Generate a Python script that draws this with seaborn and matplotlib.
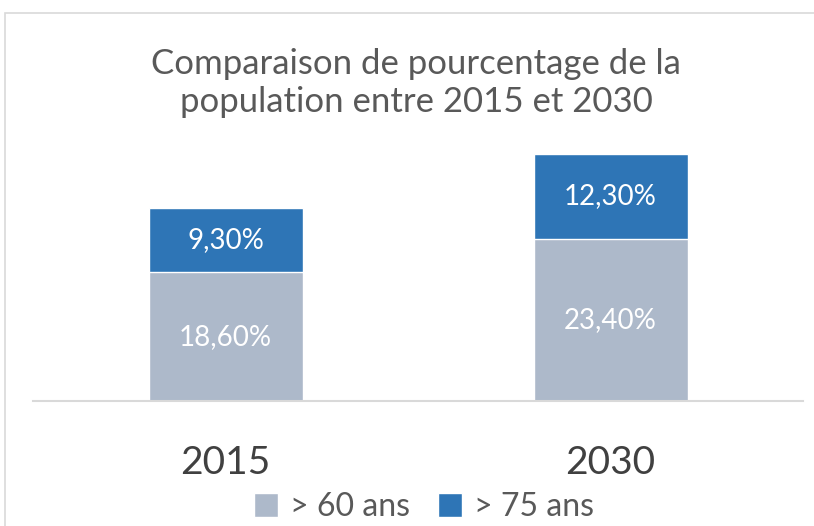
import pandas as pd
import matplotlib.pyplot as plt
import seaborn as sns
from matplotlib.patches import Rectangle, Patch

# Data
years = ["2015", "2030"]
over_60 = [18.6, 23.4]
over_75 = [9.3, 12.3]
series_names = ["> 60 ans", "> 75 ans"]

df = pd.DataFrame({"annee": years, "plus60": over_60, "plus75": over_75})
df["total"] = df["plus60"] + df["plus75"]

light = "#ADB9CA"
blue = "#2E75B6"
grey_txt = "#595959"

sns.set_style("white")
plt.rcParams["font.family"] = ["Lato", "DejaVu Sans"]

fig = plt.figure(figsize=(8.14, 5.26), dpi=100)
ax = fig.add_axes([33 / 814, 1 - 401 / 526, 770 / 814, 277 / 526])

# stacked bars: total in blue, then lower part on top
sns.barplot(data=df, x="annee", y="total", color=blue, width=0.4,
            saturation=1, ax=ax)
sns.barplot(data=df, x="annee", y="plus60", color=light, width=0.4,
            saturation=1, ax=ax)

def fmt(v):
    return f"{v:.2f}%".replace(".", ",")

for i, row in df.iterrows():
    ax.text(i, row["plus60"] / 2, fmt(row["plus60"]), ha="center", va="center",
            color="white", fontsize=20)
    ax.text(i, row["plus60"] + row["plus75"] / 2, fmt(row["plus75"]),
            ha="center", va="center", color="white", fontsize=20)

ax.set_xlim(-0.5, 1.5)
ax.set_ylim(0, 40)
ax.set_xlabel("")
ax.set_ylabel("")
ax.set_yticks([])
for s in ["top", "left", "right"]:
    ax.spines[s].set_visible(False)
ax.spines["bottom"].set_color("#D9D9D9")
ax.spines["bottom"].set_linewidth(1.5)
ax.tick_params(axis="x", length=0, pad=32, labelsize=28, labelcolor="#404040")

fig.text(416 / 814, 1 - 83 / 526, "Comparaison de pourcentage de la\npopulation entre 2015 et 2030",
         ha="center", va="center", fontsize=25, color=grey_txt, linespacing=1.2)

handles = [Patch(facecolor=light, label=series_names[0]),
           Patch(facecolor=blue, label=series_names[1])]
fig.legend(handles=handles, loc="center", bbox_to_anchor=(424 / 814, 1 - 507 / 526),
           ncol=2, frameon=False, fontsize=23, labelcolor=grey_txt,
           handlelength=0.75, handleheight=0.75, handletextpad=0.35, columnspacing=0.9)

fig.patches.append(Rectangle((5 / 814, -0.1), 1.1, 1.1 - 13 / 526,
                             transform=fig.transFigure, fill=False,
                             edgecolor="#D9D9D9", linewidth=1.2))

fig.savefig("out.png", dpi=100)
